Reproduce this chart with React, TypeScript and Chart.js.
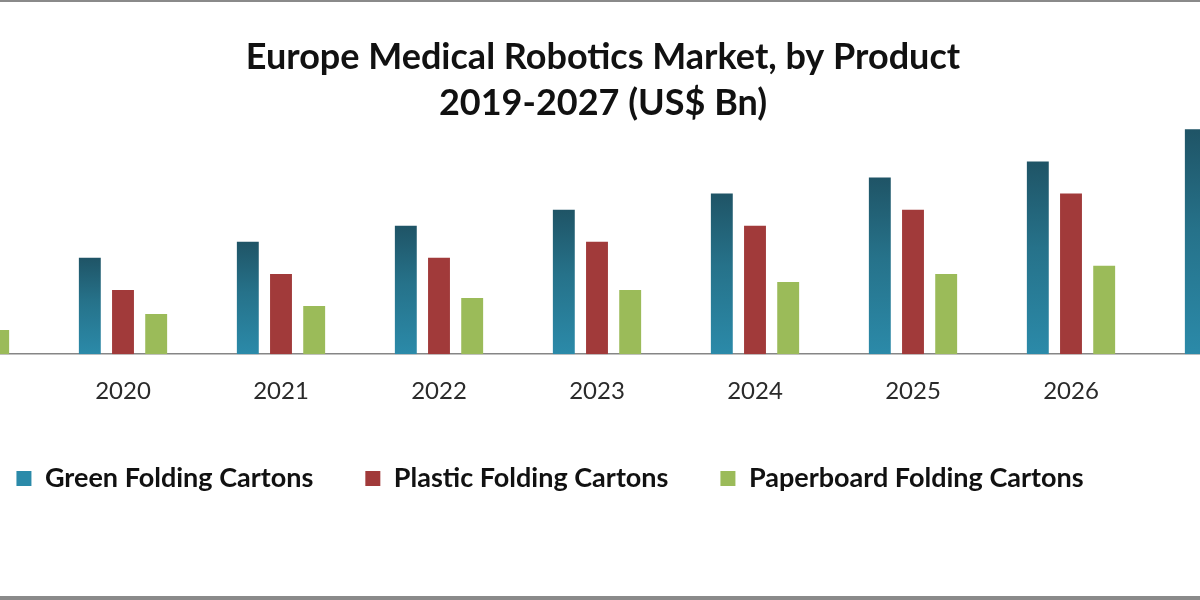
import { useEffect, useRef } from "react";
import { Chart, registerables } from "chart.js";

Chart.register(...registerables);

const categories = ["2019", "2020", "2021", "2022", "2023", "2024", "2025", "2026", "2027"];
const greenFolding = [5, 6, 7, 8, 9, 10, 11, 12, 14];
const plasticFolding = [3, 4, 5, 6, 7, 8, 9, 10, 12];
const paperboardFolding = [1.5, 2.5, 3, 3.5, 4, 4.5, 5, 5.5, 6.5];
const seriesNames = ["Green Folding Cartons", "Plastic Folding Cartons", "Paperboard Folding Cartons"];
const titleLines = ["Europe Medical Robotics Market, by Product", "2019-2027 (US$ Bn)"];

const FONT = "Lato";

function tealFill(ctx: any) {
  const solid = "#26758f";
  if (ctx.type !== "data") return solid;
  const chart = ctx.chart;
  const ys = chart.scales && chart.scales.y;
  if (!ys) return solid;
  const top = ys.getPixelForValue(ctx.raw);
  const bottom = ys.getPixelForValue(0);
  if (!isFinite(top) || !isFinite(bottom) || top === bottom) return solid;
  const g = chart.ctx.createLinearGradient(0, top, 0, bottom);
  g.addColorStop(0, "#1f5466");
  g.addColorStop(0.45, "#26728a");
  g.addColorStop(1, "#2b8aa9");
  return g;
}

const shiftPlugin = {
  id: "shiftBlocks",
  afterLayout(chart: any) {
    const lg = chart.legend;
    if (lg) {
      lg.left -= 47;
      lg.right -= 47;
      lg.top -= 8;
      lg.bottom -= 8;
    }
    const tb = chart.titleBlock;
    if (tb) {
      tb.left += 6;
      tb.right += 6;
    }
  },
};

export default function App() {
  const ref = useRef<HTMLCanvasElement>(null);
  useEffect(() => {
    if (!ref.current) return;
    const chart = new Chart(ref.current, {
      type: "bar",
      data: {
        labels: categories,
        datasets: [
          { label: seriesNames[0], data: greenFolding, backgroundColor: tealFill },
          { label: seriesNames[1], data: plasticFolding, backgroundColor: "#a13a3a" },
          { label: seriesNames[2], data: paperboardFolding, backgroundColor: "#9bbb59" },
        ],
      },
      options: {
        responsive: false,
        animation: false,
        events: [],
        devicePixelRatio: 1,
        layout: { padding: { top: 0, bottom: 90, left: 0, right: 0 } },
        datasets: { bar: { categoryPercentage: 0.63, barPercentage: 0.66 } } as any,
        plugins: {
          title: {
            display: true,
            text: titleLines,
            color: "#111111",
            font: { family: FONT, size: 36, weight: "bold", lineHeight: 1.28 },
            padding: { top: 34, bottom: 0 },
          },
          legend: {
            display: true,
            position: "bottom",
            labels: {
              boxWidth: 15,
              boxHeight: 15,
              padding: 52,
              color: "#111111",
              font: { family: FONT, size: 27, weight: "bold" },
            },
          },
          tooltip: { enabled: false },
        },
        scales: {
          x: {
            grid: { display: false },
            border: { display: true, color: "#868686", width: 1.5 },
            ticks: { color: "#2a2a2a", font: { family: FONT, size: 24 }, padding: 15 },
          },
          y: { display: false, min: 0, max: 14.2 },
        },
      },
      plugins: [shiftPlugin],
    });
    return () => chart.destroy();
  }, []);
  return (
    <div style={{ position: "absolute", left: 0, top: 0, width: 1200, height: 600, overflow: "hidden", background: "#ffffff" }}>
      <div style={{ position: "absolute", left: -114, top: 0, width: 1422, height: 600 }}>
        <canvas ref={ref} width={1422} height={600} style={{ display: "block" }} />
      </div>
      <div style={{ position: "absolute", left: 0, top: 0, width: 1200, height: 2, background: "#8a8a8a" }} />
      <div style={{ position: "absolute", left: 0, top: 596, width: 1200, height: 4, background: "#8a8a8a" }} />
    </div>
  );
}
